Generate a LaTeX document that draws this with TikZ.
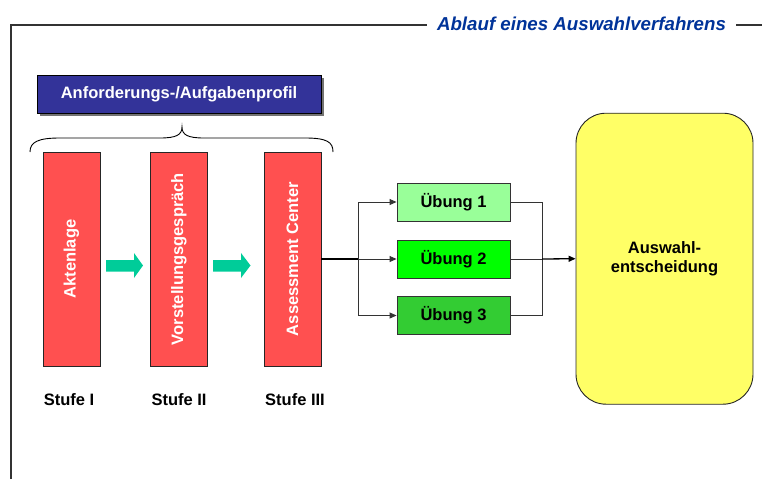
\documentclass[tikz,border=0pt]{standalone}
\usepackage{fontspec}
\setmainfont{Liberation Sans}
\usetikzlibrary{arrows.meta}
\definecolor{redbox}{HTML}{FF5050}
\definecolor{bluebox}{HTML}{333399}
\definecolor{yelbox}{HTML}{FFFF66}
\definecolor{teal}{HTML}{00CC99}
\definecolor{gA}{HTML}{99FF99}
\definecolor{gB}{HTML}{00FF00}
\definecolor{gC}{HTML}{33CC33}
\definecolor{titleblue}{HTML}{003399}
\definecolor{linegray}{HTML}{333333}
\tikzset{
  lbl/.style={font=\fontsize{16.5}{19}\selectfont\bfseries},
  stage/.style={draw=black!85, line width=0.9pt, fill=redbox, minimum width=57pt, minimum height=214pt, inner sep=0pt},
  stagetext/.style={rotate=90, text=white, lbl},
  uebung/.style={draw=black!80, line width=0.9pt, minimum width=113pt, minimum height=38pt, inner sep=0pt, lbl},
  conn/.style={draw=linegray, line width=0.9pt},
  tip/.style={-{Triangle[length=7pt,width=6pt]}},
  blockarrow/.style={fill=teal},
}
\begin{document}
\begin{tikzpicture}[x=1pt,y=-1pt]
\useasboundingbox (0,0) rectangle (762,479);
% frame
\draw[linegray, line width=1.1pt] (11,479) -- (11,25) -- (427,25);
\draw[linegray, line width=1.1pt] (736,25) -- (762,25);
\node[anchor=base, text=titleblue, font=\fontsize{18.7}{20}\selectfont\bfseries\itshape, inner sep=0pt] (title) at (581.5,30) {Ablauf eines Auswahlverfahrens};
% profile box
\fill[gray!90!black] (40,78) rectangle (324,116);
\node[draw=black, line width=0.9pt, fill=bluebox, text=white, lbl, minimum width=284pt, minimum height=38pt, inner sep=0pt] (profil) at (179,94) {Anforderungs-/Aufgabenprofil};
% brace
\draw[black, line width=0.9pt] (30,152) .. controls (30,142) and (38,138) .. (60,138) -- (160,138) .. controls (176,138) and (182,135) .. (182,127) .. controls (182,135) and (188,138) .. (204,138) -- (305,138) .. controls (327,138) and (333,142) .. (333,152);
% stages
\node[stage] (s1) at (71.5,259) {};
\node[stage] (s2) at (179,259) {};
\node[stage] (s3) at (292.5,259) {};
\node[stagetext] at (s1) {Aktenlage};
\node[stagetext] at (s2) {Vorstellungsgespräch};
\node[stagetext] at (s3) {Assessment Center};
% block arrows
\fill[blockarrow] (106,260) -- (134,260) -- (134,253) -- (143,265.5) -- (134,278) -- (134,271.5) -- (106,271.5) -- cycle;
\fill[blockarrow] (213,260) -- (241,260) -- (241,253) -- (250.5,265.5) -- (241,278) -- (241,271.5) -- (213,271.5) -- cycle;
% stage labels
\node[lbl, anchor=base, inner sep=0pt] (l1) at (69,405) {Stufe I};
\node[lbl, anchor=base, inner sep=0pt] (l2) at (179,405) {Stufe II};
\node[lbl, anchor=base, inner sep=0pt] (l3) at (295,405) {Stufe III};
% exercises
\node[uebung, fill=gA] (u1) at (453.5,202) {Übung 1};
\node[uebung, fill=gB] (u2) at (453.5,259) {Übung 2};
\node[uebung, fill=gC] (u3) at (453.5,315.5) {Übung 3};
% decision
\node[draw=black!85, line width=0.9pt, fill=yelbox, rounded corners=30pt, minimum width=177pt, minimum height=291pt, inner sep=0pt, align=center, font=\fontsize{16.5}{18.5}\selectfont\bfseries] (dec) at (664.5,258.7) {Auswahl-\\entscheidung};
% connectors
\coordinate (b1) at (358,259);
\coordinate (b2) at (542,259);
\draw[conn, line width=1.3pt, black] (s3.east) -- (b1);
\draw[conn, tip] (b1) |- (u1.west);
\draw[conn, tip] (b1) -- (u2.west);
\draw[conn, tip] (b1) |- (u3.west);
\draw[conn] (u1.east) -| (b2);
\draw[conn] (u3.east) -| (b2);
\draw[conn] (u2.east) -- (b2);
\draw[conn, line width=1.3pt, black, tip] (b2) -- (dec.west);
\end{tikzpicture}
\end{document}
